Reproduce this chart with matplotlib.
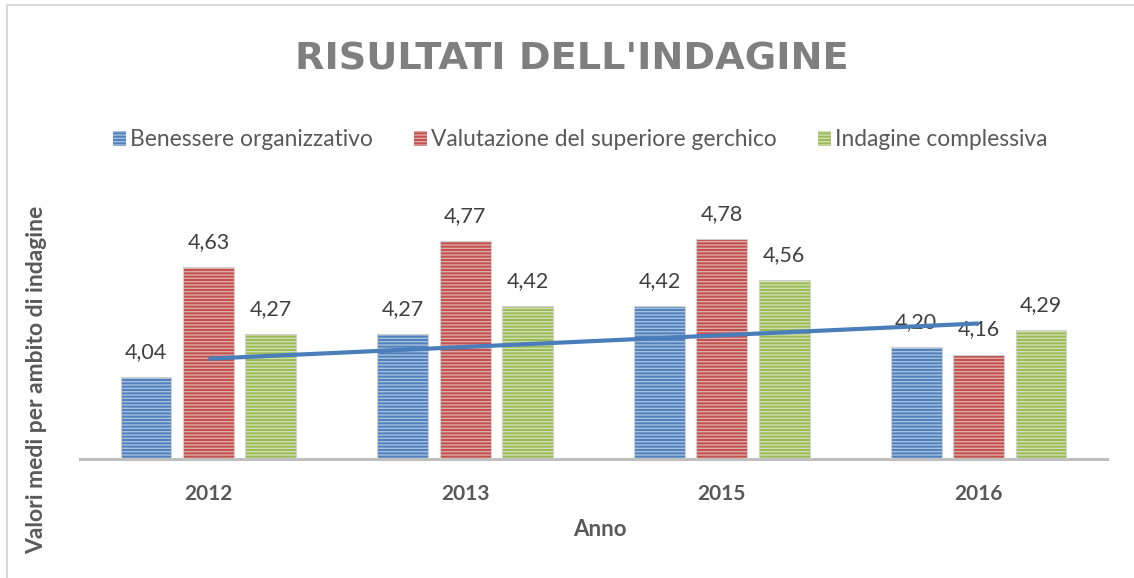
import numpy as np
import matplotlib as mpl
mpl.use("Agg")
import matplotlib.pyplot as plt
from matplotlib.patches import Patch
from matplotlib.lines import Line2D

# data
anni = ["2012", "2013", "2015", "2016"]
benessere = [4.04, 4.27, 4.42, 4.20]
valutazione = [4.63, 4.77, 4.78, 4.16]
complessiva = [4.27, 4.42, 4.56, 4.29]
serie_nomi = ["Benessere organizzativo",
              "Valutazione del superiore gerchico",
              "Indagine complessiva"]

colori = ["#4F81BD", "#C0504D", "#9BBB59"]
strisce = ["#A7C0DE", "#E2A9A8", "#CFE0AE"]

plt.rcParams['font.family'] = ['Lato', 'DejaVu Sans']
plt.rcParams['hatch.linewidth'] = 1.0

fig = plt.figure(figsize=(11.34, 5.78), dpi=100)
ax = fig.add_axes([80/1134, 119/578, 1027/1134, 261/578])

x = np.arange(len(anni))
w = 0.198
off = 0.243

for k, vals in enumerate([benessere, valutazione, complessiva]):
    pos = x + (k - 1) * off
    ax.bar(pos, np.array(vals) - 3.6, w, bottom=3.6, color=colori[k],
           edgecolor=strisce[k], hatch='-----', linewidth=0, zorder=2)
    ax.bar(pos, np.array(vals) - 3.6, w, bottom=3.6, fill=False,
           edgecolor="#D0D0D0", linewidth=0.8, zorder=3)
    for p, v in zip(pos, vals):
        ax.annotate(f"{v:.2f}".replace(".", ","), (p, v), xytext=(0, 11),
                    textcoords="offset points", ha="center", va="bottom",
                    fontsize=15.5, color="#404040", zorder=4)

# linear trend of the first series
coef = np.polyfit(x, benessere, 1)
ax.plot(x, np.polyval(coef, x), color="#4A7EBB", lw=3, zorder=5,
        solid_capstyle="butt")

ax.set_xlim(-0.5, 3.5)
ax.set_ylim(3.6, 5.0)
ax.set_xticks(x)
ax.set_xticklabels(anni, fontsize=15, fontweight="bold", color="#595959")
ax.tick_params(axis="x", length=0, pad=18)
ax.set_yticks([])
for s in ["top", "right", "left"]:
    ax.spines[s].set_visible(False)
ax.spines["bottom"].set_color("#BFBFBF")
ax.spines["bottom"].set_linewidth(2.2)

fig.text(600/1134, 1 - 530/578, "Anno", ha="center", va="center",
         fontsize=16, fontweight="bold", color="#595959")
fig.text(37/1134, 1 - 380/578, "Valori medi per ambito di indagine",
         rotation=90, ha="center", va="center",
         fontsize=16.5, fontweight="bold", color="#595959")

fig.text(572/1134, 1 - 60/578, "RISULTATI DELL'INDAGINE", ha="center",
         va="center", fontsize=27.5, fontweight="bold", color="#7F7F7F",
         family="DejaVu Sans")

handles = [Patch(facecolor=colori[k], edgecolor=strisce[k], hatch='-----',
                 linewidth=0) for k in range(3)]
fig.legend(handles, serie_nomi, loc="center", bbox_to_anchor=(580/1134, 1 - 140/578),
           ncol=3, frameon=False, fontsize=16.4, labelcolor="#595959",
           handlelength=0.6, handleheight=0.6, handletextpad=0.15,
           columnspacing=1.8)

# outer chart frame (left and top)
fig.add_artist(Line2D([7/1134, 7/1134], [0, 1 - 5/578], color="#D9D9D9", lw=1.5))
fig.add_artist(Line2D([7/1134, 1], [1 - 5/578, 1 - 5/578], color="#D9D9D9", lw=1.5))

fig.savefig("out.png", dpi=100)
